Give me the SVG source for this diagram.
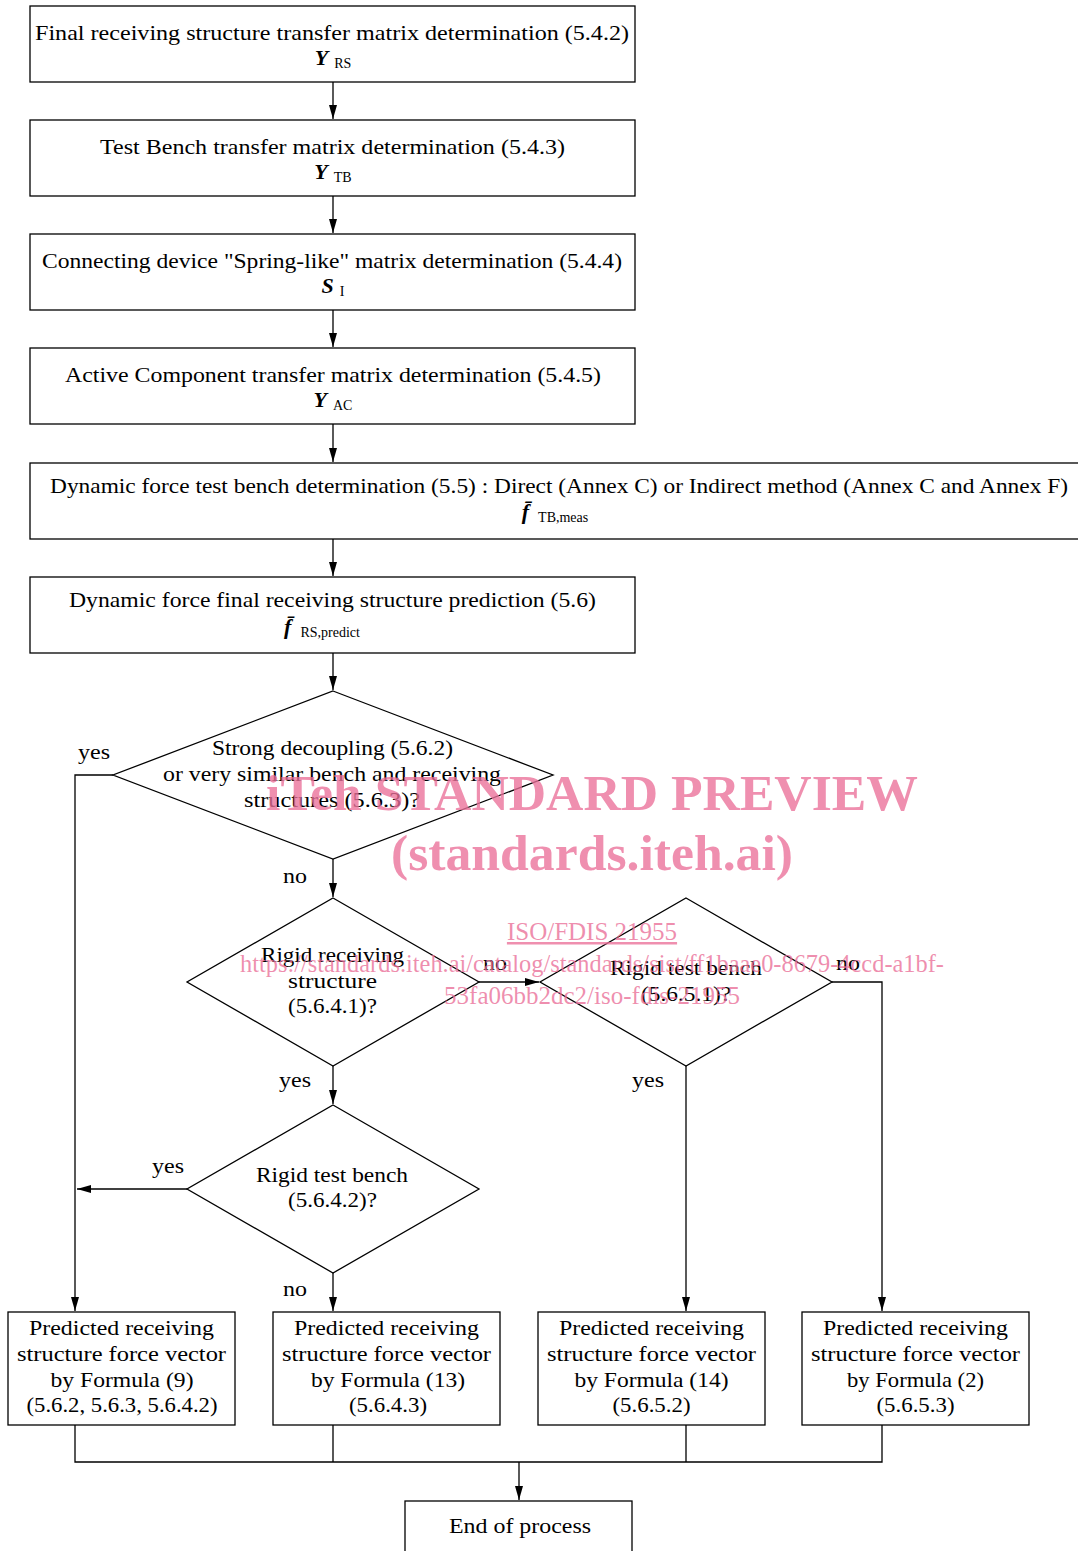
<svg xmlns="http://www.w3.org/2000/svg" width="1078" height="1551" viewBox="0 0 1078 1551">
<defs>
<marker id="ah" markerWidth="14" markerHeight="8" refX="14" refY="4" orient="auto" markerUnits="userSpaceOnUse" viewBox="0 0 14 8">
<path d="M0,0 L14,4 L0,8 z" fill="#000"/>
</marker>
<style>
.b{fill:#fff;stroke:#000;stroke-width:1.3}
.t{font-family:"Liberation Serif","DejaVu Serif",serif;font-size:22px;fill:#000;text-anchor:middle}
.s{font-size:14px}
.bi{font-weight:bold;font-style:italic}
.c{fill:none;stroke:#000;stroke-width:1.3}
.a{marker-end:url(#ah)}
.w{font-family:"Liberation Serif",serif;fill:#ea6f98;fill-opacity:0.78;text-anchor:middle}
</style>
</defs>
<rect width="1078" height="1551" fill="#fff"/>
<g id="connectors">
<path class="c a" d="M333,82 V119"/>
<path class="c a" d="M333,196 V233"/>
<path class="c a" d="M333,310 V347"/>
<path class="c a" d="M333,424 V462"/>
<path class="c a" d="M333,539 V576"/>
<path class="c a" d="M333,653 V690"/>
<path class="c a" d="M113,775 H75 V1311"/>
<path class="c a" d="M333,859 V897"/>
<path class="c a" d="M479,982 H539"/>
<path class="c a" d="M832,982 H882 V1311"/>
<path class="c a" d="M686,1066 V1311"/>
<path class="c a" d="M333,1066 V1104"/>
<path class="c a" d="M187,1189 H77"/>
<path class="c a" d="M333,1273 V1311"/>
<path class="c" d="M75,1425 V1462 H882 V1425 M333,1425 V1462 M686,1425 V1462"/>
<path class="c a" d="M519,1462 V1500"/>
<text class="t" x="94" y="759" textLength="32" lengthAdjust="spacingAndGlyphs">yes</text>
<text class="t" x="295" y="883" textLength="24" lengthAdjust="spacingAndGlyphs">no</text>
<text class="t" x="495" y="970" textLength="24" lengthAdjust="spacingAndGlyphs">no</text>
<text class="t" x="848" y="970" textLength="24" lengthAdjust="spacingAndGlyphs">no</text>
<text class="t" x="648" y="1087" textLength="32" lengthAdjust="spacingAndGlyphs">yes</text>
<text class="t" x="295" y="1087" textLength="32" lengthAdjust="spacingAndGlyphs">yes</text>
<text class="t" x="168" y="1173" textLength="32" lengthAdjust="spacingAndGlyphs">yes</text>
<text class="t" x="295" y="1296" textLength="24" lengthAdjust="spacingAndGlyphs">no</text>
</g>
<g id="n1">
<rect class="b" x="30" y="6" width="605" height="76"/>
<text class="t" x="332" y="40" textLength="594" lengthAdjust="spacingAndGlyphs">Final receiving structure transfer matrix determination (5.4.2)</text>
<text class="t" x="333" y="65"><tspan class="bi">Y</tspan><tspan class="s" dx="6" dy="3">RS</tspan></text>
</g>
<g id="n2">
<rect class="b" x="30" y="120" width="605" height="76"/>
<text class="t" x="332.5" y="154" textLength="465" lengthAdjust="spacingAndGlyphs">Test Bench transfer matrix determination (5.4.3)</text>
<text class="t" x="333" y="179"><tspan class="bi">Y</tspan><tspan class="s" dx="6" dy="3">TB</tspan></text>
</g>
<g id="n3">
<rect class="b" x="30" y="234" width="605" height="76"/>
<text class="t" x="332" y="268" textLength="580" lengthAdjust="spacingAndGlyphs">Connecting device "Spring-like" matrix determination (5.4.4)</text>
<text class="t" x="333" y="293"><tspan class="bi">S</tspan><tspan class="s" dx="6" dy="3">I</tspan></text>
</g>
<g id="n4">
<rect class="b" x="30" y="348" width="605" height="76"/>
<text class="t" x="333" y="382" textLength="536" lengthAdjust="spacingAndGlyphs">Active Component transfer matrix determination (5.4.5)</text>
<text class="t" x="333" y="407"><tspan class="bi">Y</tspan><tspan class="s" dx="6" dy="3">AC</tspan></text>
</g>
<g id="n5">
<rect class="b" x="30" y="463" width="1060" height="76"/>
<text class="t" x="559" y="493" textLength="1018" lengthAdjust="spacingAndGlyphs">Dynamic force test bench determination (5.5) : Direct (Annex C) or Indirect method (Annex C and Annex F)</text>
<text class="t" x="555" y="519"><tspan class="bi">f̄</tspan><tspan class="s" dx="9" dy="3">TB,meas</tspan></text>
</g>
<g id="n6">
<rect class="b" x="30" y="577" width="605" height="76"/>
<text class="t" x="332.5" y="607" textLength="527" lengthAdjust="spacingAndGlyphs">Dynamic force final receiving structure prediction (5.6)</text>
<text class="t" x="322" y="634"><tspan class="bi">f̄</tspan><tspan class="s" dx="9" dy="3">RS,predict</tspan></text>
</g>
<g id="d1">
<polygon class="b" points="333,691 553,775 333,859 113,775"/>
<text class="t" x="332.5" y="755" textLength="241" lengthAdjust="spacingAndGlyphs">Strong decoupling (5.6.2)</text>
<text class="t" x="332" y="781" textLength="338" lengthAdjust="spacingAndGlyphs">or very similar bench and receiving</text>
<text class="t" x="332" y="807" textLength="176" lengthAdjust="spacingAndGlyphs">structures (5.6.3)?</text>
</g>
<g id="d2">
<polygon class="b" points="333,898 479,982 333,1066 187,982"/>
<text class="t" x="332.5" y="962" textLength="143" lengthAdjust="spacingAndGlyphs">Rigid receiving</text>
<text class="t" x="332.5" y="988" textLength="89" lengthAdjust="spacingAndGlyphs">structure</text>
<text class="t" x="332.5" y="1013" textLength="89" lengthAdjust="spacingAndGlyphs">(5.6.4.1)?</text>
</g>
<g id="d3">
<polygon class="b" points="686,898 832,982 686,1066 540,982"/>
<text class="t" x="686" y="975" textLength="152" lengthAdjust="spacingAndGlyphs">Rigid test bench</text>
<text class="t" x="686" y="1001" textLength="90" lengthAdjust="spacingAndGlyphs">(5.6.5.1)?</text>
</g>
<g id="d4">
<polygon class="b" points="333,1105 479,1189 333,1273 187,1189"/>
<text class="t" x="332" y="1182" textLength="152" lengthAdjust="spacingAndGlyphs">Rigid test bench</text>
<text class="t" x="332.5" y="1207" textLength="89" lengthAdjust="spacingAndGlyphs">(5.6.4.2)?</text>
</g>
<g id="p1">
<rect class="b" x="8" y="1312" width="227" height="113"/>
<text class="t" x="121.5" y="1335" textLength="185" lengthAdjust="spacingAndGlyphs">Predicted receiving</text>
<text class="t" x="121.5" y="1361" textLength="209" lengthAdjust="spacingAndGlyphs">structure force vector</text>
<text class="t" x="122" y="1387" textLength="143" lengthAdjust="spacingAndGlyphs">by Formula (9)</text>
<text class="t" x="122" y="1412" textLength="191" lengthAdjust="spacingAndGlyphs">(5.6.2, 5.6.3, 5.6.4.2)</text>
</g>
<g id="p2">
<rect class="b" x="273" y="1312" width="227" height="113"/>
<text class="t" x="386.5" y="1335" textLength="185" lengthAdjust="spacingAndGlyphs">Predicted receiving</text>
<text class="t" x="386.5" y="1361" textLength="209" lengthAdjust="spacingAndGlyphs">structure force vector</text>
<text class="t" x="388" y="1387" textLength="154" lengthAdjust="spacingAndGlyphs">by Formula (13)</text>
<text class="t" x="388" y="1412" textLength="78" lengthAdjust="spacingAndGlyphs">(5.6.4.3)</text>
</g>
<g id="p3">
<rect class="b" x="538" y="1312" width="227" height="113"/>
<text class="t" x="651.5" y="1335" textLength="185" lengthAdjust="spacingAndGlyphs">Predicted receiving</text>
<text class="t" x="651.5" y="1361" textLength="209" lengthAdjust="spacingAndGlyphs">structure force vector</text>
<text class="t" x="651.5" y="1387" textLength="154" lengthAdjust="spacingAndGlyphs">by Formula (14)</text>
<text class="t" x="651.5" y="1412" textLength="78" lengthAdjust="spacingAndGlyphs">(5.6.5.2)</text>
</g>
<g id="p4">
<rect class="b" x="802" y="1312" width="227" height="113"/>
<text class="t" x="915.5" y="1335" textLength="185" lengthAdjust="spacingAndGlyphs">Predicted receiving</text>
<text class="t" x="915.5" y="1361" textLength="209" lengthAdjust="spacingAndGlyphs">structure force vector</text>
<text class="t" x="915.5" y="1387" textLength="137" lengthAdjust="spacingAndGlyphs">by Formula (2)</text>
<text class="t" x="915.5" y="1412" textLength="78" lengthAdjust="spacingAndGlyphs">(5.6.5.3)</text>
</g>
<g id="end">
<rect class="b" x="405" y="1501" width="227" height="70"/>
<text class="t" x="520" y="1533" textLength="142" lengthAdjust="spacingAndGlyphs">End of process</text>
</g>
<g id="watermark">
<text class="w" x="592" y="810" font-size="51.7" font-weight="bold">iTeh STANDARD PREVIEW</text>
<text class="w" x="592" y="870" font-size="51.7" font-weight="bold">(standards.iteh.ai)</text>
<text class="w" x="592" y="940" font-size="25" text-decoration="underline">ISO/FDIS 21955</text>
<text class="w" x="592" y="972" font-size="24.4">https://standards.iteh.ai/catalog/standards/sist/ff1baae0-8679-4ccd-a1bf-</text>
<text class="w" x="592" y="1004" font-size="25">53fa06bb2dc2/iso-fdis-21955</text>
</g>
</svg>
